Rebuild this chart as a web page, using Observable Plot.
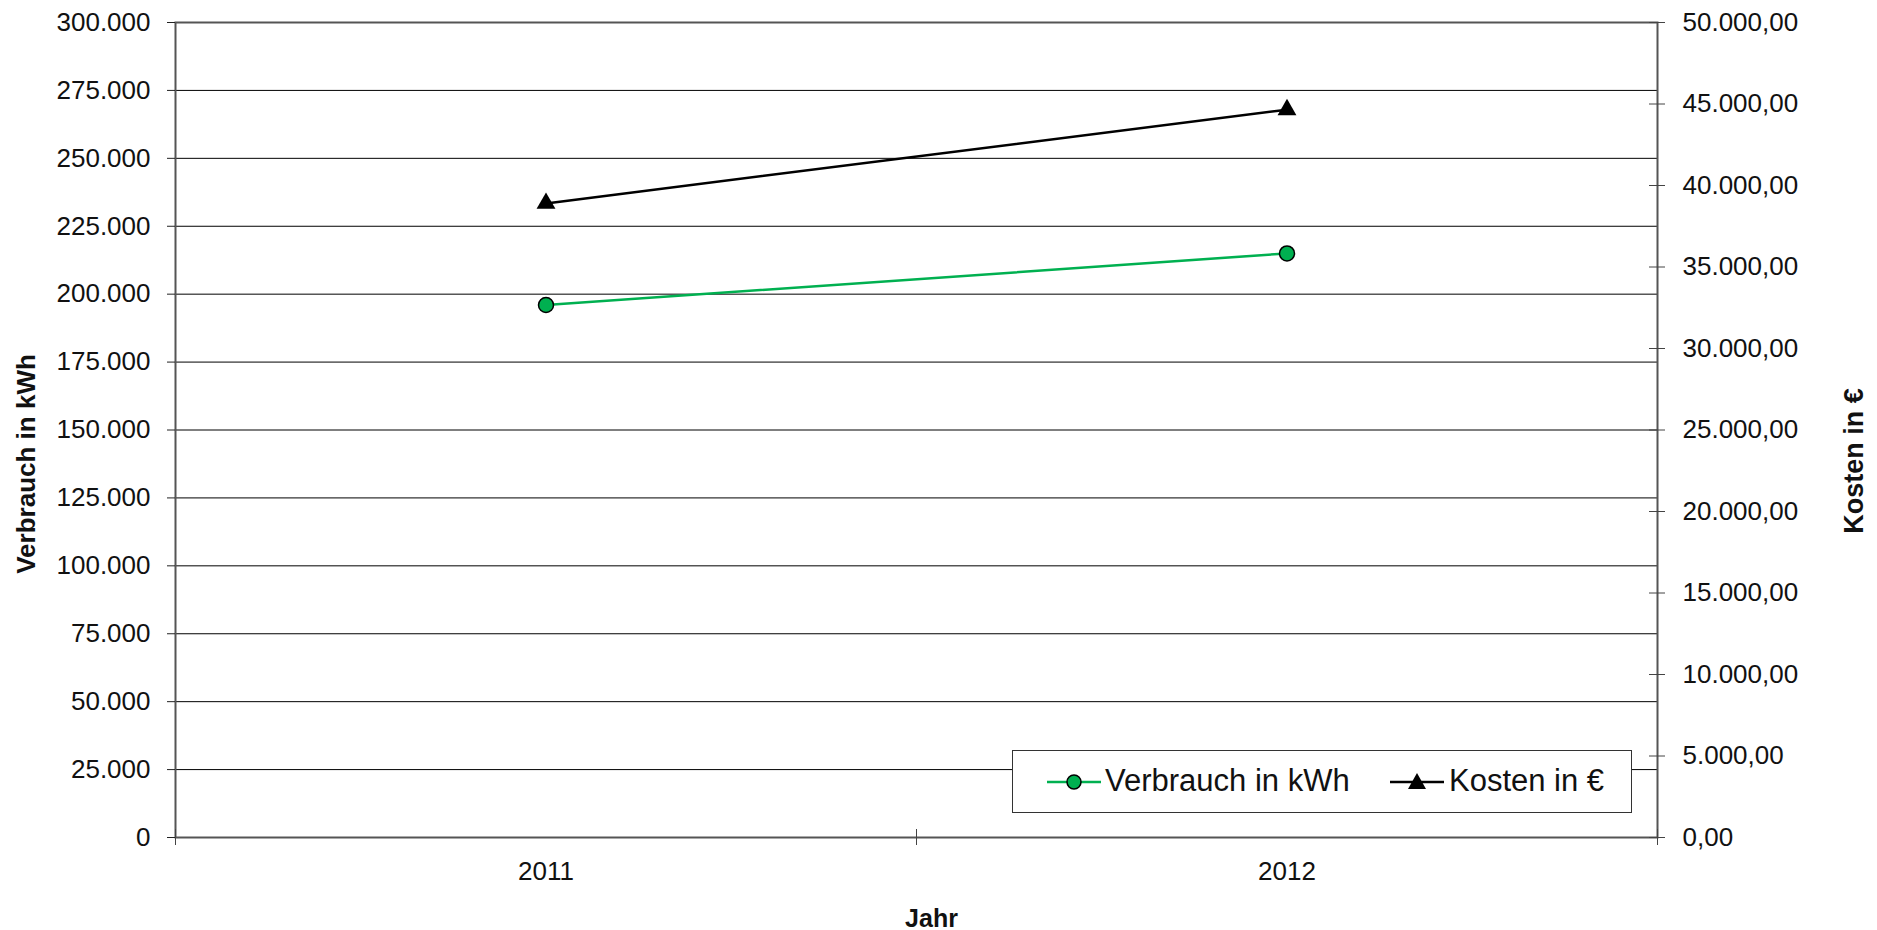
<!DOCTYPE html>
<html>
<head>
<meta charset="utf-8">
<script src="https://cdn.jsdelivr.net/npm/d3@7"></script>
<script src="https://cdn.jsdelivr.net/npm/@observablehq/plot@0.6"></script>
<style>
  html, body { margin: 0; padding: 0; background: #fff; }
  #wrap { position: relative; width: 1877px; height: 930px; font-family: "Liberation Sans", Arial, sans-serif; }
  #legend { position: absolute; left: 1012px; top: 750px; width: 620px; height: 63px; border: 1.5px solid #333; background: #fff; box-sizing: border-box; }
  #legend .lbl { position: absolute; top: 50%; transform: translateY(-52%); font-size: 31px; color: #111; white-space: nowrap; }
</style>
</head>
<body>
<div id="wrap"></div>
<script>
// ---- data ----
const years = [2011, 2012];
const verbrauch = [196000, 215000];      // kWh (left axis)
const kosten = [38900, 44650];           // € (right axis)
const leftTicks = [0, 25000, 50000, 75000, 100000, 125000, 150000, 175000, 200000, 225000, 250000, 275000, 300000];
const rightTicks = [0, 5000, 10000, 15000, 20000, 25000, 30000, 35000, 40000, 45000, 50000];
const xBounds = [2010.5, 2011.5, 2012.5];
const seriesNames = ["Verbrauch in kWh", "Kosten in €"];
const xTitle = "Jahr";

const green = "#00B050";
const leftMax = 300000, rightMax = 50000;
const ratio = leftMax / rightMax;

const de = d3.formatLocale({decimal: ",", thousands: ".", grouping: [3], currency: ["", " €"]});
const fmtL = de.format(",.0f");
const fmtR = de.format(",.2f");

const dataV = years.map((y, i) => ({year: y, v: verbrauch[i]}));
const dataK = years.map((y, i) => ({year: y, k: kosten[i]}));

const chart = Plot.plot({
  width: 1877,
  height: 930,
  marginLeft: 175,
  marginRight: 220,
  marginTop: 22,
  marginBottom: 93,
  style: {fontFamily: "Liberation Sans, Arial, sans-serif", fontSize: "26px", color: "#111", background: "#fff"},
  x: {domain: [xBounds[0], xBounds[2]], axis: null},
  y: {domain: [0, leftMax], axis: null},
  marks: [
    // gridlines
    Plot.ruleY(leftTicks, {y: d => d, stroke: "#000", strokeWidth: 1}),
    Plot.frame({stroke: "#555", strokeWidth: 2}),
    // left axis
    Plot.axisY({anchor: "left", ticks: leftTicks, tickSize: 8, tickPadding: 17, tickFormat: fmtL, label: null, stroke: "#222"}),
    // right axis
    Plot.ruleY(rightTicks, {y: d => d * ratio, x1: xBounds[2], x2: xBounds[2], insetLeft: -8, insetRight: -8, stroke: "#444"}),
    Plot.axisY({anchor: "right", ticks: rightTicks.map(d => d * ratio), tickSize: 0, tickPadding: 25, tickFormat: d => fmtR(d / ratio), label: null}),
    // x axis
    Plot.ruleX(xBounds, {x: d => d, y1: 0, y2: 0, insetTop: -8, insetBottom: -8, stroke: "#444"}),
    Plot.axisX({anchor: "bottom", ticks: years, tickSize: 0, tickPadding: 24, tickFormat: d => String(d), label: null}),
    // titles
    Plot.text([xTitle], {text: d => d, frameAnchor: "bottom", textAnchor: "middle", lineAnchor: "middle", dx: 15, dy: 81, fontWeight: "bold", fontSize: 25}),
    Plot.text([seriesNames[0]], {text: d => d, frameAnchor: "left", textAnchor: "middle", lineAnchor: "middle", dx: -149, dy: 34, rotate: -90, fontWeight: "bold", fontSize: 26}),
    Plot.text([seriesNames[1]], {text: d => d, frameAnchor: "right", textAnchor: "middle", lineAnchor: "middle", dx: 197, dy: 31, rotate: -90, fontWeight: "bold", fontSize: 27}),
    // series
    Plot.line(dataK, {x: "year", y: d => d.k * ratio, stroke: "#000", strokeWidth: 2.5}),
    Plot.dot(dataK, {x: "year", y: d => d.k * ratio, symbol: "triangle", r: 7, fill: "#000", stroke: "none"}),
    Plot.line(dataV, {x: "year", y: "v", stroke: green, strokeWidth: 2.5}),
    Plot.dot(dataV, {x: "year", y: "v", r: 7.5, fill: green, stroke: "#000", strokeWidth: 1.5})
  ]
});

const wrap = document.getElementById("wrap");
wrap.appendChild(chart);

// legend (overlaid inside the plot area)
const legend = document.createElement("div");
legend.id = "legend";
legend.innerHTML = `
  <svg style="position:absolute;left:34px;top:20px" width="54" height="22">
    <line x1="0" y1="11" x2="54" y2="11" stroke="${green}" stroke-width="2.5"/>
    <circle cx="27" cy="11" r="7" fill="${green}" stroke="#000" stroke-width="1.5"/>
  </svg>
  <span class="lbl" style="left:92px">${seriesNames[0]}</span>
  <svg style="position:absolute;left:377px;top:20px" width="54" height="22">
    <line x1="0" y1="11" x2="54" y2="11" stroke="#000" stroke-width="2.5"/>
    <path d="M27,2 L36,18 L18,18 Z" fill="#000"/>
  </svg>
  <span class="lbl" style="left:436px">${seriesNames[1]}</span>
`;
wrap.appendChild(legend);
</script>
</body>
</html>
